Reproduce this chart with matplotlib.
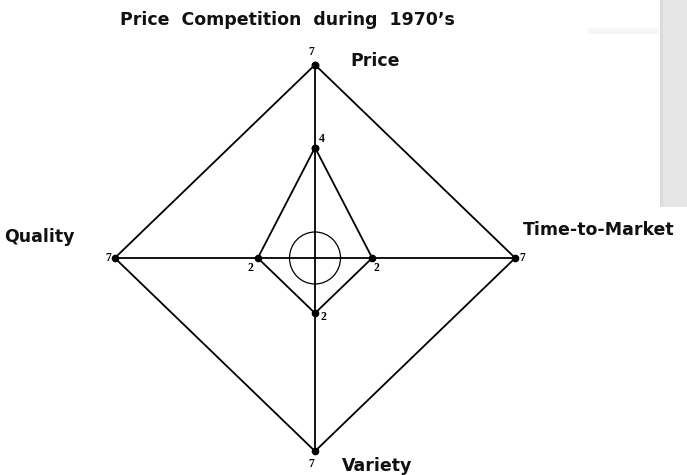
import numpy as np
import matplotlib
matplotlib.use("Agg")
import matplotlib.pyplot as plt
from matplotlib.patches import Ellipse, Rectangle

# Radar data: four axes, scale max 7
categories = ["Price", "Time-to-Market", "Variety", "Quality"]
values = [4, 2, 2, 2]
scale_max = 7
title = "Price  Competition  during  1970\u2019s"

# directions of the axes (degrees): up, right, down, left
angles = np.deg2rad([90, 0, 270, 180])
dx = np.round(np.cos(angles), 6)
dy = np.round(np.sin(angles), 6)

fig = plt.figure(figsize=(6.87, 4.75), dpi=100)
ax = fig.add_axes([0, 0, 1, 1])
ax.set_xlim(-315 / 28.6, (687 - 315) / 28.6)
ax.set_ylim(-(475 - 258) / 27.6, 258 / 27.6)
ax.axis("off")

# gray panel at the right edge and faint strip
fig.patches.append(Rectangle((660 / 687, 1 - 207 / 475), 27 / 687, 207 / 475,
                             transform=fig.transFigure, facecolor="#e6e6e6",
                             edgecolor="none", zorder=0))
fig.patches.append(Rectangle((660 / 687, 1 - 207 / 475), 3 / 687, 207 / 475,
                             transform=fig.transFigure, facecolor="#dcdcdc",
                             edgecolor="none", zorder=0))
fig.patches.append(Rectangle((588 / 687, 1 - 34 / 475), 70 / 687, 6 / 475,
                             transform=fig.transFigure, facecolor="#f6f6f6",
                             edgecolor="none", zorder=0))

lw = 1.3
# cross axes
for i in range(len(categories)):
    ax.plot([0, scale_max * dx[i]], [0, scale_max * dy[i]], color="black", lw=lw)

# outer polygon (max values)
ox = np.append(scale_max * dx, scale_max * dx[0])
oy = np.append(scale_max * dy, scale_max * dy[0])
ax.plot(ox, oy, color="black", lw=lw, marker="o", markersize=4.5)

# inner polygon (data)
vals = np.array(values)
ix = np.append(vals * dx, vals[0] * dx[0])
iy = np.append(vals * dy, vals[0] * dy[0])
ax.plot(ix, iy, color="black", lw=lw, marker="o", markersize=4.5)

# small center circle
ax.add_patch(Ellipse((0, 0), 51 / 28.6, 52 / 27.6, fill=False,
                     edgecolor="black", lw=0.9))

# value labels
num_font = dict(family="Liberation Serif", fontweight="bold", fontsize=8.5,
                color="black")


def px(a, b):
    return (a * 0.72, -b * 0.72)


# outer 7s
ax.annotate(str(scale_max), (0, scale_max), xytext=px(-4, -13),
            textcoords="offset points", ha="center", va="center", **num_font)
ax.annotate(str(scale_max), (scale_max, 0), xytext=px(7, 0),
            textcoords="offset points", ha="center", va="center", **num_font)
ax.annotate(str(scale_max), (0, -scale_max), xytext=px(-4, 13),
            textcoords="offset points", ha="center", va="center", **num_font)
ax.annotate(str(scale_max), (-scale_max, 0), xytext=px(-7, 0),
            textcoords="offset points", ha="center", va="center", **num_font)
# inner values
offsets = [px(7, -9), px(4, 10), px(8, 4), px(-7, 10)]
for i in range(len(categories)):
    ax.annotate(str(values[i]), (values[i] * dx[i], values[i] * dy[i]),
                xytext=offsets[i], textcoords="offset points",
                ha="center", va="center", **num_font)

# category labels
lab_font = dict(family="DejaVu Sans", fontweight="bold", fontsize=12.5,
                color="#111111")
ax.annotate(categories[0], (0, scale_max), xytext=px(35, -4),
            textcoords="offset points", ha="left", va="center", **lab_font)
ax.annotate(categories[1], (scale_max, 0), xytext=px(8, -28),
            textcoords="offset points", ha="left", va="center", **lab_font)
ax.annotate(categories[2], (0, -scale_max), xytext=px(27, 15),
            textcoords="offset points", ha="left", va="center", **lab_font)
ax.annotate(categories[3], (-scale_max, 0), xytext=px(-75, -21),
            textcoords="offset points", ha="center", va="center", **lab_font)

fig.text(287 / 687, 1 - 20 / 475, title, ha="center", va="center", **lab_font)

fig.savefig("out.png", dpi=100)
